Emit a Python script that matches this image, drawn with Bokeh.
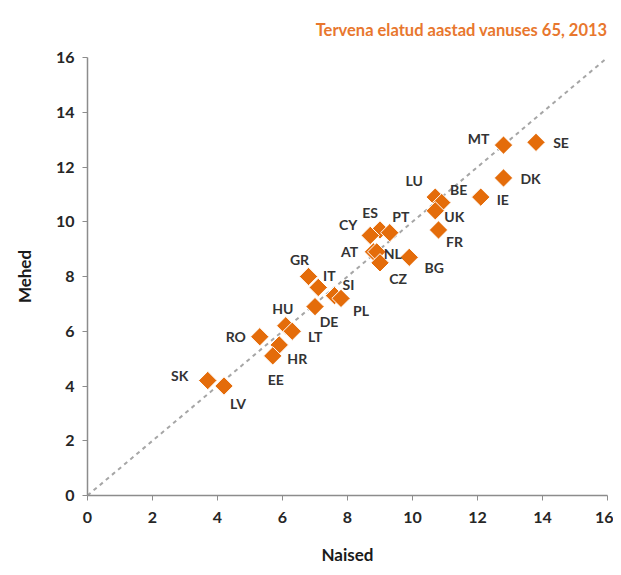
import math
from bokeh.plotting import figure
from bokeh.models import ColumnDataSource, FixedTicker, Range1d
from bokeh.core.properties import value
from bokeh.embed import file_html
from bokeh.resources import INLINE

# Data
countries = ["MT", "SE", "DK", "IE", "LU", "BE", "UK", "FR", "ES", "CY", "PT", "AT", "NL", "CZ",
             "BG", "GR", "IT", "SI", "PL", "DE", "HU", "LT", "RO", "HR", "EE", "SK", "LV"]
naised = [12.8, 13.8, 12.8, 12.1, 10.7, 10.9, 10.7, 10.8, 9.0, 8.7, 9.3, 8.8, 8.9, 9.0,
          9.9, 6.8, 7.1, 7.6, 7.8, 7.0, 6.1, 6.3, 5.3, 5.9, 5.7, 3.7, 4.2]
mehed = [12.8, 12.9, 11.6, 10.9, 10.9, 10.7, 10.4, 9.7, 9.7, 9.5, 9.6, 8.9, 8.9, 8.5,
         8.7, 8.0, 7.6, 7.3, 7.2, 6.9, 6.2, 6.0, 5.8, 5.5, 5.1, 4.2, 4.0]
ticks = [0, 2, 4, 6, 8, 10, 12, 14, 16]
diag = [0, 16]

# label placement (screen px offsets)
label_dx = [-25, 25, 27, 22, -21, 17, 19, 16, -10, -22, 11, -24, 16, 18,
            25, -9, 11, 14, 20, 14, -3, 23, -24, 18, 3, -28, 14]
label_dy = [-7, 0, 1, 2, -17, -13, 6, 12, -17, -11, -16, 0, 2, 16,
            10, -17, -12, -11, 12, 15, -17, 5, 0, 14, 24, -5, 17]

ORANGE = "#E46C0A"

src = ColumnDataSource(dict(x=naised, y=mehed, c=countries, dx=label_dx, dy=label_dy))

p = figure(width=613, height=567, output_backend="svg", toolbar_location=None,
           x_range=Range1d(0, 16), y_range=Range1d(0, 16),
           min_border_left=87, min_border_right=6, min_border_top=0, min_border_bottom=71,
           title="Tervena elatud aastad vanuses 65, 2013")
p.title.align = "right"
p.title.text_color = "#E8772E"
p.title.text_font = "Lato"
p.title.text_font_size = "16.5px"
p.title.text_font_style = "bold"
p.title.standoff = 35

p.outline_line_color = None
p.xgrid.visible = False
p.ygrid.visible = False

for ax in (p.xaxis[0], p.yaxis[0]):
    ax.ticker = FixedTicker(ticks=ticks)
    ax.axis_line_color = "#8C8C8C"
    ax.axis_line_width = 1.5
    ax.major_tick_line_color = "#8C8C8C"
    ax.major_tick_in = 0
    ax.major_tick_out = 5
    ax.minor_tick_line_color = None
    ax.major_label_text_font = "Lato"
    ax.major_label_text_font_size = "16px"
    ax.major_label_text_font_style = "bold"
    ax.major_label_text_color = "#262626"
    ax.axis_label_text_font = "Lato"
    ax.axis_label_text_font_size = "17px"
    ax.axis_label_text_font_style = "bold"
    ax.axis_label_text_color = "#1a1a1a"

p.xaxis.axis_label = "Naised"
p.yaxis.axis_label = "Mehed"
p.xaxis.major_label_standoff = 11
p.yaxis.major_label_standoff = 8
p.xaxis.axis_label_standoff = 18
p.yaxis.axis_label_standoff = 18

p.line(diag, diag, line_color="#A6A6A6", line_width=2, line_dash="4 4")

p.scatter("x", "y", source=src, marker="square", angle=math.pi / 4, size=13,
          fill_color=ORANGE, line_color="white", line_width=1)

p.text("x", "y", text="c", source=src, x_offset="dx", y_offset="dy",
       text_align="center", text_baseline="middle",
       text_font=value("Lato"), text_font_size="14px", text_font_style="bold",
       text_color="#333333")

open("out.html", "w").write(file_html(p, INLINE))
